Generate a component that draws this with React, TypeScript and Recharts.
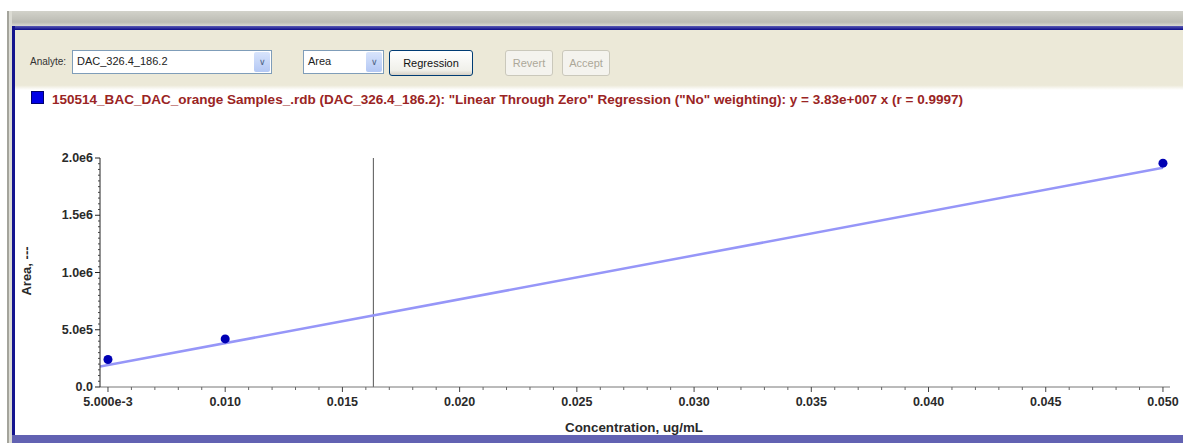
import { ComposedChart, Line, Scatter, XAxis, YAxis, ReferenceLine } from "recharts";

// calibration standards
const concentrations = [0.005, 0.01, 0.05];
const areas = [240000, 420000, 1955000];

// regression line end points (y = 3.83e7 x)
const fitX = [0.00466, 0.05];
const fitY = [178500, 1915000];

// cursor position
const cursorX = 0.01632;

const xMajor = [0.005, 0.01, 0.015, 0.02, 0.025, 0.03, 0.035, 0.04, 0.045, 0.05];
const xMajorLabels = ["5.000e-3", "0.010", "0.015", "0.020", "0.025", "0.030", "0.035", "0.040", "0.045", "0.050"];
const yMajor = [0, 500000, 1000000, 1500000, 2000000];
const yMajorLabels = ["0.0", "5.0e5", "1.0e6", "1.5e6", "2.0e6"];

const xTicks = Array.from({ length: 46 }, (_, i) => Math.round((0.005 + i * 0.001) * 1e6) / 1e6);
const yTicks = Array.from({ length: 41 }, (_, i) => i * 50000);

const points = concentrations.map((c, i) => ({ x: c, y: areas[i] }));
const fit = fitX.map((c, i) => ({ x: c, fit: fitY[i] }));

const legendText =
  '150514_BAC_DAC_orange Samples_.rdb (DAC_326.4_186.2): "Linear Through Zero" Regression ("No" weighting): y = 3.83e+007 x (r = 0.9997)';

const font = '"Liberation Sans", Arial, sans-serif';

function XTick(props: any) {
  const { x, y, payload } = props;
  const idx = xMajor.findIndex((v) => Math.abs(v - payload.value) < 1e-9);
  if (idx < 0) return <line x1={x} x2={x} y1={y} y2={y + 3} stroke="#666" />;
  return (
    <g>
      <line x1={x} x2={x} y1={y} y2={y + 5} stroke="#444" />
      <text x={x} y={y + 19} textAnchor="middle" fontFamily={font} fontWeight="bold" fontSize={12.5} fill="#2a2a2a">
        {xMajorLabels[idx]}
      </text>
    </g>
  );
}

function YTick(props: any) {
  const { x, y, payload } = props;
  const idx = yMajor.findIndex((v) => Math.abs(v - payload.value) < 1);
  if (idx < 0) return <line x1={x - 2} x2={x} y1={y} y2={y} stroke="#444" />;
  return (
    <g>
      <line x1={x - 5} x2={x} y1={y} y2={y} stroke="#222" />
      <text x={x - 7} y={y + 4} textAnchor="end" fontFamily={font} fontWeight="bold" fontSize={12.5} fill="#2a2a2a">
        {yMajorLabels[idx]}
      </text>
    </g>
  );
}

function Combo({ left, width, text }: { left: number; width: number; text: string }) {
  return (
    <div
      style={{
        position: "absolute", left, top: 50, width, height: 24, background: "#fff",
        border: "1px solid #7f9db9", boxSizing: "border-box",
      }}
    >
      <span style={{ position: "absolute", left: 4, top: 4, fontSize: 11, fontFamily: font, color: "#222" }}>{text}</span>
      <div
        style={{
          position: "absolute", right: 1, top: 1, width: 16, bottom: 1,
          background: "linear-gradient(#d8e4fc, #b4c8f4)", borderRadius: 2,
          color: "#4d6185", fontSize: 9, textAlign: "center", lineHeight: "20px", fontFamily: font,
        }}
      >
        &#8744;
      </div>
    </div>
  );
}

function Btn({ left, width, text, disabled }: { left: number; width: number; text: string; disabled?: boolean }) {
  return (
    <div
      style={{
        position: "absolute", left, top: 50, width, height: 26, boxSizing: "border-box",
        border: disabled ? "1px solid #cac8bb" : "1px solid #003c74", borderRadius: 3,
        background: disabled ? "#f4f3ee" : "linear-gradient(#ffffff, #f0f0ea 80%, #d6d0c5)",
        color: disabled ? "#aca899" : "#111", fontFamily: font, fontSize: 11,
        textAlign: "center", lineHeight: "24px",
      }}
    >
      {text}
    </div>
  );
}

export default function App() {
  return (
    <div style={{ position: "absolute", left: 0, top: 0, width: 1183, height: 443, background: "#fff", overflow: "hidden" }}>
      {/* window frame */}
      <div style={{ position: "absolute", left: 7, top: 11, width: 1176, height: 16, background: "linear-gradient(#d2d2ca, #bcbcb4 70%, #e2e2dc)" }} />
      <div style={{ position: "absolute", left: 7, top: 11, width: 2, height: 432, background: "#a4a49c" }} />
      <div style={{ position: "absolute", left: 9, top: 11, width: 3, height: 432, background: "#dcdcd4" }} />
      <div style={{ position: "absolute", left: 12, top: 26, width: 1171, height: 4, background: "linear-gradient(#5a5ab4, #0c0c8a)" }} />
      <div style={{ position: "absolute", left: 12, top: 26, width: 3, height: 417, background: "#14148e" }} />
      <div style={{ position: "absolute", left: 15, top: 30, width: 1168, height: 60, background: "linear-gradient(#ece9d8 92%, #ffffff)" }} />
      <div style={{ position: "absolute", left: 12, top: 435, width: 1171, height: 8, background: "#6262b2" }} />

      {/* toolbar */}
      <span style={{ position: "absolute", left: 30, top: 56, fontSize: 10, fontFamily: font, color: "#333" }}>Analyte:</span>
      <Combo left={72} width={200} text="DAC_326.4_186.2" />
      <Combo left={303} width={81} text="Area" />
      <Btn left={389} width={84} text="Regression" />
      <Btn left={505} width={48} text="Revert" disabled />
      <Btn left={562} width={48} text="Accept" disabled />

      {/* legend */}
      <div style={{ position: "absolute", left: 31, top: 91, width: 13, height: 13, background: "#0000e6", border: "1px solid #000070", boxSizing: "border-box" }} />
      <svg style={{ position: "absolute", left: 0, top: 88 }} width={1000} height={22}>
        <text x={52} y={16} fontFamily={font} fontWeight="bold" fontSize={12.5} fill="#9a2424" textLength={911} lengthAdjust="spacingAndGlyphs">
          {legendText}
        </text>
      </svg>

      <div style={{ position: "absolute", left: 0, top: 0 }}>
        <ComposedChart width={1183} height={443} margin={{ top: 158, right: 13, left: 40, bottom: 26 }}>
          <XAxis
            dataKey="x"
            type="number"
            domain={[0.00466, 0.0503]}
            ticks={xTicks}
            interval={0}
            allowDataOverflow
            tick={<XTick />}
            tickLine={false}
            tickSize={0}
            tickMargin={0}
            height={30}
            axisLine={{ stroke: "#777" }}
            label={{
              content: () => (
                <text x={634} y={432} textAnchor="middle" fontFamily={font} fontWeight="bold" fontSize={13} fill="#2a2a2a" textLength={138} lengthAdjust="spacingAndGlyphs">
                  Concentration, ug/mL
                </text>
              ),
            }}
          />
          <YAxis
            type="number"
            domain={[0, 2000000]}
            ticks={yTicks}
            interval={0}
            allowDataOverflow
            tick={<YTick />}
            tickLine={false}
            tickSize={0}
            tickMargin={0}
            width={60}
            axisLine={{ stroke: "#222" }}
            label={{
              content: () => (
                <text x={31} y={271} transform="rotate(-90 31 271)" textAnchor="middle" fontFamily={font} fontWeight="bold" fontSize={13} fill="#2a2a2a">
                  Area, ---
                </text>
              ),
            }}
          />
          <ReferenceLine x={cursorX} stroke="#555" strokeWidth={1} ifOverflow="visible" />
          <Line data={fit} dataKey="fit" stroke="#9696f8" strokeWidth={2.5} dot={false} isAnimationActive={false} />
          <Scatter data={points} dataKey="y" fill="#0000b4" shape="circle" isAnimationActive={false} />
        </ComposedChart>
      </div>
    </div>
  );
}
